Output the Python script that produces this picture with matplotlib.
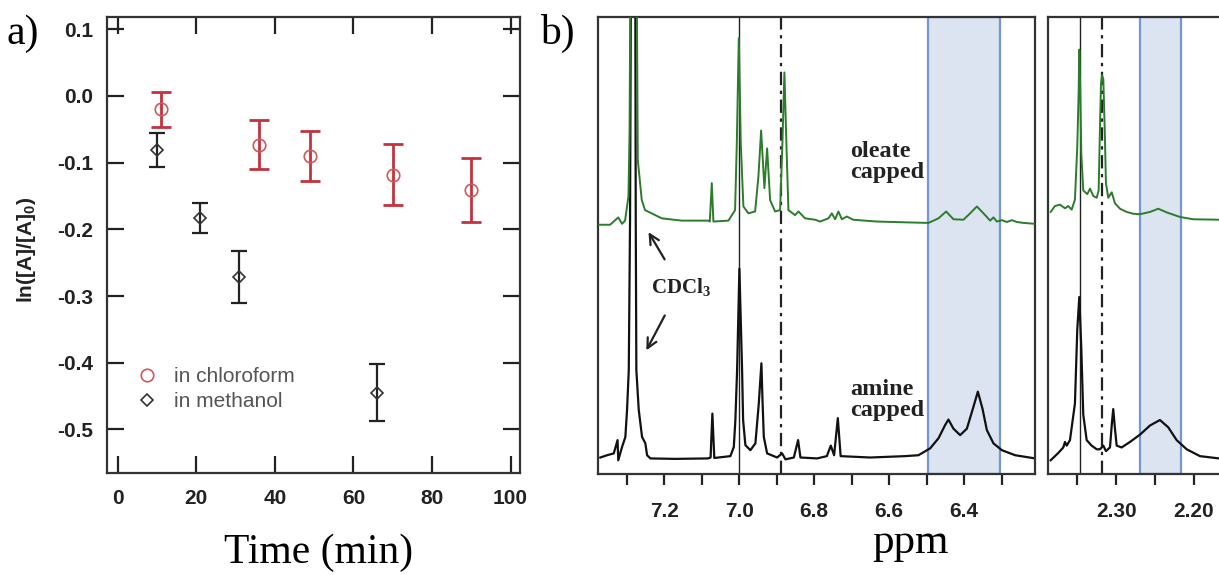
import matplotlib
matplotlib.use('Agg')
import matplotlib.pyplot as plt
from matplotlib.ticker import MultipleLocator, FormatStrFormatter

plt.rcParams['font.family'] = ['Liberation Sans', 'DejaVu Sans']
plt.rcParams['axes.unicode_minus'] = False
plt.rcParams['mathtext.fontset'] = 'custom'
plt.rcParams['mathtext.rm'] = 'Liberation Serif:bold'
plt.rcParams['mathtext.sf'] = 'Liberation Sans:bold'

# a) decay data
time_chloro = [11, 36, 49, 70, 90]
lnA_chloro = [-0.020, -0.073, -0.090, -0.118, -0.141]
err_chloro = [0.026, 0.037, 0.038, 0.046, 0.048]
time_methanol = [10, 21, 31, 66]
lnA_methanol = [-0.081, -0.183, -0.272, -0.445]
err_methanol = [0.025, 0.022, 0.039, 0.043]

# b) NMR traces, aromatic region (intensity above each trace's own baseline)
ppm_oleate = [7.378, 7.344, 7.322, 7.312, 7.304, 7.295, 7.292, 7.2893, 7.2819, 7.2733,
              7.2701, 7.2595, 7.2507, 7.2061, 7.1528, 7.0819, 7.0781, 7.0728, 7.0685, 7.0285,
              7.0107, 7.0061, 7.0008, 6.9955, 6.9885, 6.9752, 6.9573, 6.9485, 6.9413, 6.9325,
              6.9253, 6.9173, 6.9040, 6.8907, 6.8845, 6.8792, 6.8739, 6.8685, 6.8507, 6.8419,
              6.8240, 6.7973, 6.7840, 6.7619, 6.7528, 6.7440, 6.7352, 6.7261, 6.7128, 6.6960,
              6.6328, 6.5440, 6.4952, 6.4685, 6.4480, 6.4285, 6.4019, 6.3840, 6.3661, 6.3485,
              6.3307, 6.3219, 6.3128, 6.2995, 6.2861, 6.2728, 6.2595, 6.2419, 6.2107]
int_oleate = [-0.4, -0.4, 1.2, -0.2, 0.5, 5.8, 20.0, 60.0, 150.0, 60.0,
              13.8, 5.0, 2.8, 1.0, 0.5, 0.5, 0.3, 8.7, 0.3, 0.5,
              2.8, 17.4, 40.4, 17.4, 3.6, 2.1, 2.5, 10.1, 20.2, 7.6,
              16.3, 5.0, 2.5, 2.8, 17.4, 32.9, 17.4, 2.8, 1.7, 2.5,
              1.0, 0.7, 0.3, 1.0, 2.1, 0.8, 2.5, 0.8, 1.4, 0.7,
              0.3, 0.1, 0.0, 1.0, 2.5, 0.8, 0.7, 2.1, 3.6, 2.1,
              0.5, 1.2, 0.3, 0.6, 0.2, 0.6, 0.2, 0.0, -0.2]
ppm_amine = [7.3699, 7.3520, 7.3341, 7.3240, 7.3221, 7.3120, 7.3032, 7.2987, 7.2941, 7.2907,
             7.2888, 7.2832, 7.2765, 7.2755, 7.2739, 7.2675, 7.2587, 7.2499, 7.2453, 7.2365,
             7.1707, 7.0827, 7.0760, 7.0712, 7.0661, 7.0232, 7.0141, 7.0099, 7.0053, 6.9992,
             6.9920, 6.9893, 6.9832, 6.9699, 6.9565, 6.9475, 6.9405, 6.9373, 6.9341, 6.9253,
             6.8987, 6.8853, 6.8765, 6.8541, 6.8427, 6.8365, 6.7920, 6.7661, 6.7555, 6.7467,
             6.7368, 6.7293, 6.6507, 6.5573, 6.5219, 6.4907, 6.4685, 6.4507, 6.4419, 6.4285,
             6.4107, 6.3928, 6.3752, 6.3635, 6.3512, 6.3395, 6.3219, 6.2995, 6.2640, 6.2107]
int_amine = [-0.3, 0.2, 0.6, 3.5, -0.9, 2.0, 4.2, 10.1, 18.8, 51.6,
             96.0, 250.0, 96.0, 51.6, 18.8, 10.1, 4.2, 2.8, 0.2, -0.5,
             -0.6, -0.5, -0.3, 9.3, -0.4, 0.0, 2.0, 7.9, 18.8, 41.0,
             18.8, 7.9, 2.4, 1.3, 2.8, 11.5, 20.3, 11.5, 4.2, 0.6,
             -0.3, 0.6, -0.7, -0.3, 3.5, -0.3, -0.5, 0.0, 2.3, 0.2,
             8.3, 0.0, -0.3, 0.0, 0.2, 1.7, 3.9, 6.8, 8.0, 6.0,
             4.6, 6.0, 10.8, 14.1, 10.4, 5.7, 2.8, 1.3, 0.2, -0.5]

# b) NMR traces, 2.2-2.4 ppm region
ppm_oleate_2 = [2.3844, 2.3789, 2.3725, 2.3660, 2.3618, 2.3574, 2.3532, 2.3502, 2.3484, 2.3476,
                2.3463, 2.3450, 2.3425, 2.3373, 2.3338, 2.3296, 2.3252, 2.3227, 2.3210, 2.3197,
                2.3184, 2.3167, 2.3149, 2.3133, 2.3103, 2.3059, 2.3017, 2.2952, 2.2866, 2.2781,
                2.2695, 2.2566, 2.2459, 2.2351, 2.2180, 2.2009, 2.1678]
int_oleate_2 = [2.4, 3.7, 4.0, 3.2, 3.7, 2.9, 5.1, 16.7, 28.7, 37.9,
                28.7, 15.1, 7.1, 6.3, 7.5, 5.9, 5.5, 7.1, 20.7, 30.3,
                32.3, 31.5, 20.7, 8.7, 5.5, 6.7, 4.3, 3.1, 2.4, 2.0,
                1.9, 2.4, 3.1, 2.3, 1.3, 0.8, 0.7]
ppm_amine_2 = [2.3844, 2.3746, 2.3682, 2.3660, 2.3638, 2.3596, 2.3532, 2.3502, 2.3476, 2.3450,
               2.3425, 2.3381, 2.3317, 2.3252, 2.3210, 2.3167, 2.3133, 2.3081, 2.3055, 2.3039,
               2.3021, 2.2995, 2.2931, 2.2824, 2.2695, 2.2566, 2.2438, 2.2331, 2.2223, 2.2094,
               2.1923, 2.1678]
int_amine_2 = [-0.9, 0.7, 1.9, 3.1, 2.3, 3.5, 11.5, 27.6, 34.8, 23.5,
               9.1, 3.5, 2.3, 1.5, 1.5, 2.3, 1.1, 1.9, 7.5, 10.3,
               6.7, 2.3, 1.9, 3.1, 4.7, 6.7, 7.9, 6.3, 3.5, 1.5,
               0.0, -0.5]

oleate_offset = 54.9
amine_offset = 3.9

fig = plt.figure(figsize=(12.19, 5.75), dpi=100)

# ---------- panel a ----------
ax = fig.add_axes([0.0878, 0.1779, 0.3388, 0.7920])
ax.errorbar(time_chloro, lnA_chloro, yerr=err_chloro, fmt='none', ecolor='#c4323c',
            elinewidth=2.0, capsize=7, capthick=2.0)
ax.errorbar(time_methanol, lnA_methanol, yerr=err_methanol, fmt='none', ecolor='#222222',
            elinewidth=1.6, capsize=6, capthick=1.6)
ax.plot(time_chloro, lnA_chloro, 'o', ms=9, mfc='none', mec='#d0585a', mew=1.2,
        label='in chloroform')
ax.plot(time_methanol, lnA_methanol, 'D', ms=6, mfc='none', mec='#333333', mew=1.2,
        label='in methanol')
ax.set_xlim(-2.7, 102.4)
ax.set_ylim(-0.565, 0.118)
ax.xaxis.set_major_locator(MultipleLocator(20))
ax.yaxis.set_major_locator(MultipleLocator(0.1))
ax.yaxis.set_major_formatter(FormatStrFormatter('%.1f'))
ax.tick_params(direction='in', length=12, width=1.6, top=True, right=True,
               labelsize=15, colors='#222222')
ax.tick_params(axis='x', pad=12)
ax.tick_params(axis='y', pad=10)
for lab in ax.get_xticklabels() + ax.get_yticklabels():
    lab.set_fontweight('bold')
for sp in ax.spines.values():
    sp.set_linewidth(1.6)
    sp.set_color('#333333')
ax.set_ylabel(r'ln([A]/[A]$_\mathsf{0}$)', fontsize=15, fontweight='bold', color='#222222')
ax.yaxis.set_label_coords(-0.167, 0.49)
leg = ax.legend(loc='upper left', bbox_to_anchor=(0.071, 0.232), frameon=False, fontsize=15,
                handlelength=1.0, handletextpad=0.8, labelspacing=0.3, borderpad=0,
                borderaxespad=0)
for t in leg.get_texts():
    t.set_color('#555555')

fig.text(0.005, 0.941, 'a)', fontsize=30, family='Liberation Serif', va='center')
fig.text(0.261, 1 - 563 / 575, 'Time (min)', fontsize=30, family='Liberation Serif',
         ha='center', va='baseline')

# ---------- panel b (aromatic region) ----------
bx = fig.add_axes([0.4903, 0.1757, 0.3588, 0.7953])
bx.axvspan(6.496, 6.305, facecolor='#dbe4f0', edgecolor='#7397d0', lw=1.6, zorder=0)
bx.axvline(7.0, color='#222222', lw=1.0, zorder=1)
bx.axvline(6.887, color='#222222', lw=1.6, ls=(0, (6, 2.5, 1.5, 2.5)), zorder=1)
bx.plot(ppm_amine, [v + amine_offset for v in int_amine], color='#111111', lw=1.6, zorder=2)
bx.plot(ppm_oleate, [v + oleate_offset for v in int_oleate], color='#2b7d2b', lw=1.4, zorder=3)
bx.set_xlim(7.377, 6.211)
bx.set_ylim(0, 100)
bx.set_yticks([])
bx.xaxis.set_major_locator(MultipleLocator(0.2))
bx.xaxis.set_minor_locator(MultipleLocator(0.1))
bx.xaxis.set_major_formatter(FormatStrFormatter('%.1f'))
bx.tick_params(axis='x', which='both', direction='out', length=8, width=1.6, pad=12,
               labelsize=15, colors='#222222')
for lab in bx.get_xticklabels():
    lab.set_fontweight('bold')
for sp in bx.spines.values():
    sp.set_linewidth(1.6)
    sp.set_color('#333333')

bx.text(6.704, 68.2, 'oleate\ncapped', fontsize=17.5, family='Liberation Serif',
        fontweight='bold', color='#222222', ha='left', va='center', linespacing=1.0)
bx.text(6.704, 16.2, 'amine\ncapped', fontsize=17.5, family='Liberation Serif',
        fontweight='bold', color='#222222', ha='left', va='center', linespacing=1.0)
bx.text(7.155, 40.7, r'CDCl$_\mathrm{3}$', fontsize=15, family='Liberation Serif',
        fontweight='bold', color='#222222', ha='center', va='center')
arrow = dict(arrowstyle='->,head_length=0.7,head_width=0.35', lw=1.6, color='#222222')
bx.annotate('', xy=(7.2453, 53.4), xytext=(7.1947, 46.4), arrowprops=arrow)
bx.annotate('', xy=(7.2507, 26.5), xytext=(7.1947, 35.2), arrowprops=arrow)

fig.text(910 / 1219, 1 - 553 / 575, 'ppm', fontsize=31, family='Liberation Serif',
         ha='center', va='baseline')
fig.text(540 / 1219, 0.941, 'b)', fontsize=30, family='Liberation Serif', va='center')

# ---------- panel b (2.2-2.4 ppm region) ----------
cx = fig.add_axes([0.8597, 0.1757, 0.1403, 0.7953])
cx.axvspan(2.2695, 2.2167, facecolor='#dbe4f0', edgecolor='#7397d0', lw=1.6, zorder=0)
cx.axvline(2.3467, color='#222222', lw=1.0, zorder=1)
cx.axvline(2.3184, color='#222222', lw=1.6, ls=(0, (6, 2.5, 1.5, 2.5)), zorder=1)
cx.plot(ppm_amine_2, [v + amine_offset for v in int_amine_2], color='#111111', lw=1.6, zorder=2)
cx.plot(ppm_oleate_2, [v + oleate_offset for v in int_oleate_2], color='#2b7d2b', lw=1.4, zorder=3)
cx.set_xlim(2.3879, 2.1678)
cx.set_ylim(0, 100)
cx.set_yticks([])
cx.xaxis.set_major_locator(MultipleLocator(0.1))
cx.xaxis.set_minor_locator(MultipleLocator(0.05))
cx.xaxis.set_major_formatter(FormatStrFormatter('%.2f'))
cx.tick_params(axis='x', which='both', direction='out', length=8, width=1.6, pad=12,
               labelsize=15, colors='#222222')
for lab in cx.get_xticklabels():
    lab.set_fontweight('bold')
for sp in cx.spines.values():
    sp.set_linewidth(1.6)
    sp.set_color('#333333')
cx.spines['right'].set_visible(False)

fig.savefig('out.png', dpi=100)
